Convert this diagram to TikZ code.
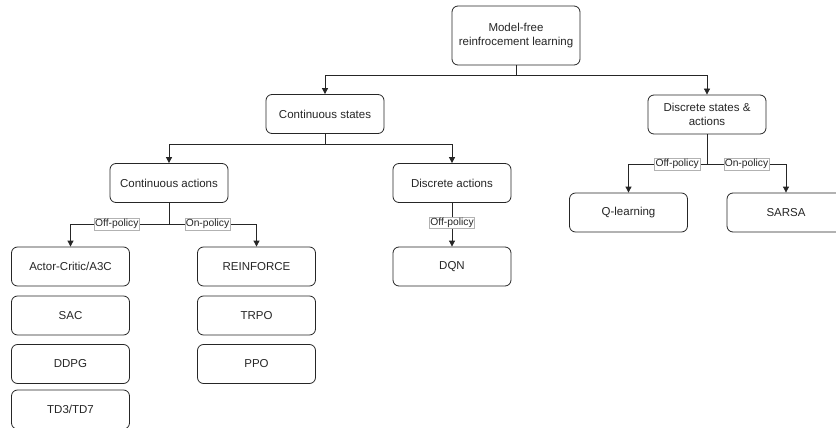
\documentclass[tikz,border=0pt]{standalone}
\usepackage{fontspec}
\setmainfont{Liberation Sans}
\usetikzlibrary{arrows.meta}
\begin{document}
\begin{tikzpicture}[x=1pt,y=-1pt,
  box/.style={draw=black!85, line width=0.8pt, rounded corners=6pt, fill=white,
    minimum width=118pt, minimum height=39pt, align=center, inner sep=1pt,
    font=\fontsize{11.5}{13.5}\selectfont, text=black!85},
  conn/.style={line width=0.8pt, draw=black!85},
  arr/.style={conn, -{Triangle[length=6pt,width=6pt]}},
  lbl/.style={fill=white, draw=black!30, line width=0.4pt, inner sep=1pt,
    font=\fontsize{10.3}{12}\selectfont, text=black!85}]
\useasboundingbox (0,0) rectangle (836,428);
\clip (0,0) rectangle (836,428);

\node[box, minimum width=128pt, minimum height=59pt] (top) at (516,35.5) {Model-free\\reinfrocement learning};
\node[box] (cs) at (325,114) {Continuous states};
\node[box] (ds) at (707,114.5) {Discrete states \&\\actions};
\node[box] (ca) at (169,183) {Continuous actions};
\node[box] (da) at (452,183) {Discrete actions};
\node[box] (ql) at (628.5,212.5) {Q-learning};
\node[box] (sarsa) at (786,212.5) {SARSA};
\node[box] (ac) at (70.5,266.5) {Actor-Critic/A3C};
\node[box] (re) at (256.5,266.5) {REINFORCE};
\node[box] (dqn) at (452,266.5) {DQN};
\node[box] (sac) at (70.5,315.5) {SAC};
\node[box] (trpo) at (256.5,315.5) {TRPO};
\node[box] (ddpg) at (70.5,364) {DDPG};
\node[box] (ppo) at (256.5,364) {PPO};
\node[box] (td) at (70.5,409.5) {TD3/TD7};

\coordinate (b1) at (0,75);
\coordinate (b2) at (0,144);
\coordinate (b3) at (0,224);
\coordinate (b4) at (0,164);

\draw[arr] (top.south) -- (top.south |- b1) -| (cs.north);
\draw[arr] (top.south) -- (top.south |- b1) -| (ds.north);
\draw[arr] (cs.south) -- (cs.south |- b2) -| (ca.north);
\draw[arr] (cs.south) -- (cs.south |- b2) -| (da.north);
\draw[arr] (ca.south) -- (ca.south |- b3) -| node[lbl, pos=0.265] {Off-policy} (ac.north);
\draw[arr] (ca.south) -- (ca.south |- b3) -| node[lbl, pos=0.22] {On-policy} (re.north);
\draw[arr] (da.south) -- node[lbl, pos=0.45] {Off-policy} (dqn.north);
\draw[arr] (ds.south) -- (ds.south |- b4) -| node[lbl, pos=0.19] {Off-policy} (ql.north);
\draw[arr] (ds.south) -- (ds.south |- b4) -| node[lbl, pos=0.25] {On-policy} (sarsa.north);
\end{tikzpicture}
\end{document}
